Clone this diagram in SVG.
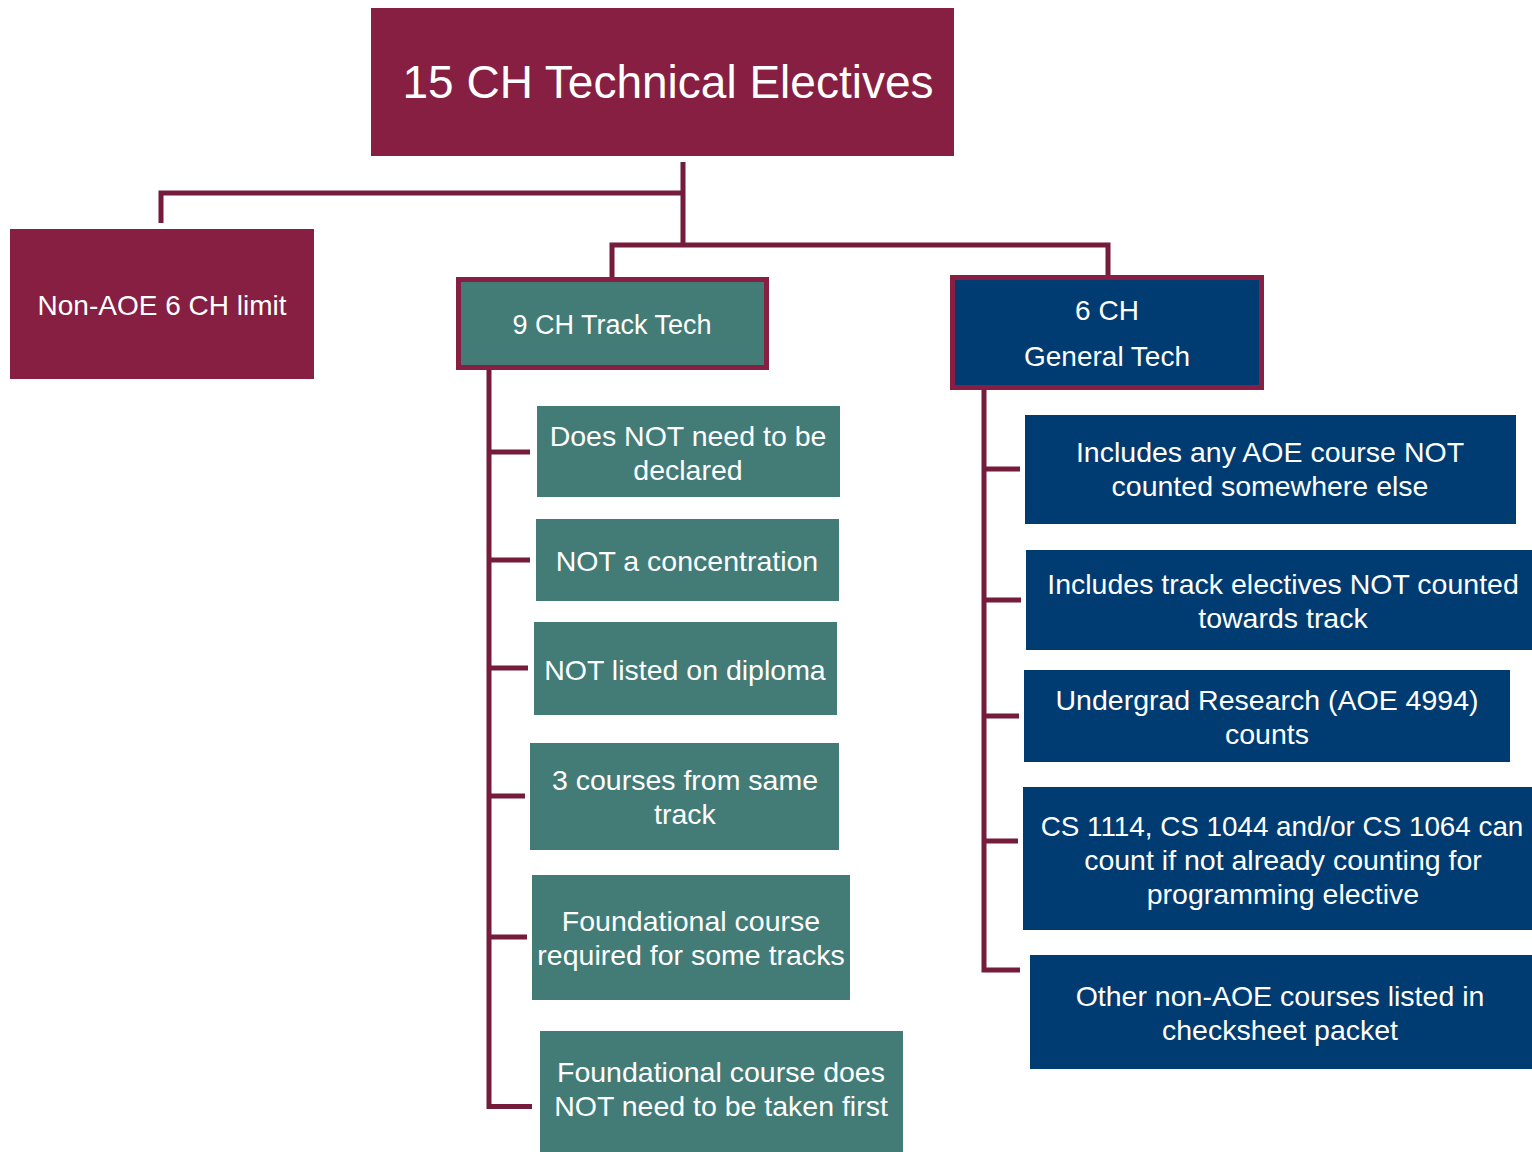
<svg xmlns="http://www.w3.org/2000/svg" width="1532" height="1152" viewBox="0 0 1532 1152">
<style>
text{font-family:"Liberation Sans",Arial,sans-serif;fill:#fff;text-anchor:middle;font-size:28.5px}
.maroon{fill:#861F41}
.teal{fill:#437B77}
.navy{fill:#003B71}
.bord{stroke:#861F41;stroke-width:5}
.conn{fill:none;stroke:#751B3B;stroke-width:5;stroke-linejoin:miter}
</style>
<rect width="1532" height="1152" fill="#fff"/>
<g id="connectors">
<path class="conn" d="M683 162V245M161 223V193H683M612 277V245H1108V277"/>
<path class="conn" d="M489 370V1106.5H532M489 452H530M489 560H530M489 668H528M489 796H525M489 937H527"/>
<path class="conn" d="M984 390V970H1020M984 469H1020M984 600H1021M984 716H1019M984 841H1018"/>
</g>
<g id="title"><rect class="maroon" x="371" y="8" width="583" height="148"/><text x="668" y="98" style="font-size:46px">15 CH Technical Electives</text></g>
<g id="nonaoe"><rect class="maroon" x="10" y="229" width="304" height="150"/><text x="162" y="315" style="font-size:28px">Non-AOE 6 CH limit</text></g>
<g id="track"><rect class="teal bord" x="458.5" y="279.5" width="308" height="88"/><text x="612" y="334" style="font-size:27px">9 CH Track Tech</text></g>
<g id="general"><rect class="navy bord" x="952.5" y="277.5" width="309" height="110"/><text x="1107" y="320" style="font-size:28px">6 CH</text><text x="1107" y="366" style="font-size:28px">General Tech</text></g>
<g id="t1"><rect class="teal" x="537" y="406" width="303" height="91"/><text x="688" y="446">Does NOT need to be</text><text x="688" y="480">declared</text></g>
<g id="t2"><rect class="teal" x="536" y="519" width="303" height="82"/><text x="687" y="571">NOT a concentration</text></g>
<g id="t3"><rect class="teal" x="534" y="622" width="303" height="93"/><text x="685" y="680">NOT listed on diploma</text></g>
<g id="t4"><rect class="teal" x="530" y="743" width="309" height="107"/><text x="685" y="790">3 courses from same</text><text x="685" y="824">track</text></g>
<g id="t5"><rect class="teal" x="532" y="875" width="318" height="125"/><text x="691" y="931">Foundational course</text><text x="691" y="965">required for some tracks</text></g>
<g id="t6"><rect class="teal" x="540" y="1031" width="363" height="121"/><text x="721" y="1082">Foundational course does</text><text x="721" y="1116">NOT need to be taken first</text></g>
<g id="g1"><rect class="navy" x="1025" y="415" width="491" height="109"/><text x="1270" y="462">Includes any AOE course NOT</text><text x="1270" y="496">counted somewhere else</text></g>
<g id="g2"><rect class="navy" x="1026" y="550" width="506" height="100"/><text x="1283" y="594">Includes track electives NOT counted</text><text x="1283" y="628">towards track</text></g>
<g id="g3"><rect class="navy" x="1024" y="670" width="486" height="92"/><text x="1267" y="710">Undergrad Research (AOE 4994)</text><text x="1267" y="744">counts</text></g>
<g id="g4"><rect class="navy" x="1023" y="787" width="509" height="143"/><text x="1282" y="836" style="font-size:27.8px">CS 1114, CS 1044 and/or CS 1064 can</text><text x="1283" y="870">count if not already counting for</text><text x="1283" y="904">programming elective</text></g>
<g id="g5"><rect class="navy" x="1030" y="955" width="502" height="114"/><text x="1280" y="1006">Other non-AOE courses listed in</text><text x="1280" y="1040">checksheet packet</text></g>
</svg>
